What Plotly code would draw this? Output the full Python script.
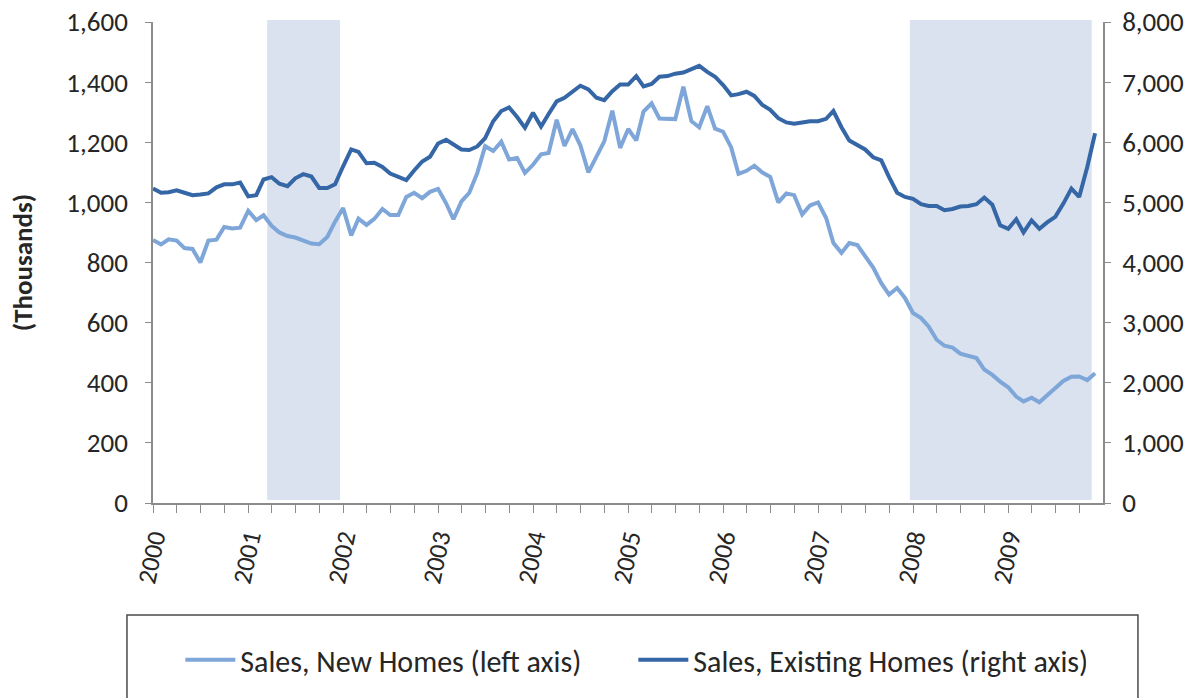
import pandas as pd
import plotly.graph_objects as go

# monthly series, Jan 2000 - Dec 2009 (thousands)
months = pd.date_range("2000-01-01", "2009-12-01", freq="MS")

new_homes = [
    875, 860, 877, 873, 848, 845, 800, 873, 876, 918, 913, 916,
    972, 941, 957, 922, 900, 888, 883, 874, 863, 861, 885, 936,
    981, 890, 946, 925, 945, 978, 958, 958, 1018, 1032, 1014, 1035,
    1045, 997, 944, 1003, 1032, 1098, 1187, 1171, 1202, 1143, 1148, 1098,
    1125, 1160, 1164, 1275, 1188, 1244, 1190, 1100, 1153, 1203, 1305, 1181,
    1244, 1206, 1302, 1329, 1279, 1279, 1277, 1385, 1270, 1250, 1320, 1245,
    1235, 1183, 1095, 1105, 1122, 1099, 1085, 1000, 1030, 1024, 960, 990,
    1000, 948, 865, 832, 865, 858, 822, 783, 731, 693, 715, 682,
    632, 615, 587, 543, 523, 517, 497, 491, 482, 444, 426, 404,
    385, 354, 338, 350, 335, 359, 382, 406, 420, 421, 409, 432,
]

existing_homes = [
    5230, 5160, 5170, 5200, 5160, 5120, 5130, 5150, 5250, 5300, 5300, 5330,
    5100, 5120, 5380, 5420, 5310, 5270, 5400, 5470, 5430, 5240, 5240, 5300,
    5600, 5880, 5840, 5650, 5660, 5590, 5480, 5420, 5370, 5530, 5680, 5760,
    5980, 6040, 5960, 5880, 5870, 5930, 6070, 6350, 6520, 6580, 6420, 6240,
    6490, 6260, 6470, 6680, 6740, 6840, 6940, 6880, 6740, 6700, 6850, 6960,
    6960, 7100, 6930, 6970, 7090, 7100, 7140, 7160, 7220, 7270, 7170, 7090,
    6950, 6780, 6800, 6840, 6770, 6620, 6540, 6400, 6330, 6310, 6330, 6350,
    6350, 6390, 6520, 6250, 6030, 5950, 5880, 5750, 5700, 5420, 5160, 5090,
    5060, 4970, 4940, 4940, 4870, 4890, 4930, 4940, 4970, 5080, 4960, 4620,
    4560, 4720, 4500, 4700, 4560, 4670, 4760, 4980, 5230, 5090, 5590, 6150,
]

# recession periods (shaded)
recessions = [("2001-03-15", "2001-12-20"), ("2007-12-20", "2009-11-18")]

FONT = "Calibri, Carlito, Liberation Sans, Arial, sans-serif"
TXT = "#262626"
AXIS = "#8c8c8c"

fig = go.Figure()

fig.add_trace(go.Scatter(
    x=months, y=new_homes, name="Sales, New Homes (left axis)",
    mode="lines", line=dict(color="#7ea6d8", width=4), yaxis="y",
))
fig.add_trace(go.Scatter(
    x=months, y=existing_homes, name="Sales, Existing Homes (right axis)",
    mode="lines", line=dict(color="#3566a6", width=4), yaxis="y2",
))

for start, end in recessions:
    fig.add_shape(type="rect", xref="x", yref="paper", x0=start, x1=end,
                  y0=0.006, y1=1.004, fillcolor="#dae2f0", line_width=0, layer="below")

# legend frame (runs off the bottom of the page like the original)
fig.add_shape(type="rect", xref="paper", yref="paper", x0=-0.0274, x1=1.0368,
              y0=-0.233, y1=-0.45, line=dict(color="#4a4a4a", width=1.5),
              fillcolor="rgba(0,0,0,0)")

fig.update_layout(
    width=1190, height=698,
    margin=dict(l=153, r=87, t=22, b=195, autoexpand=False),
    plot_bgcolor="white", paper_bgcolor="white",
    font=dict(family=FONT, size=27, color=TXT),
    showlegend=True,
    legend=dict(orientation="h", x=0.5056, xanchor="center", y=-0.326, yanchor="middle",
                font=dict(size=30, color=TXT), bgcolor="rgba(0,0,0,0)",
                itemwidth=50, entrywidth=388),
    xaxis=dict(
        type="date", range=["2000-01-01", "2009-12-31 12:00"],
        tick0="2000-01-01", dtick="M12", tickformat="%Y", tickangle=-78,
        ticks="outside", ticklen=8, tickcolor=AXIS,
        minor=dict(dtick="M3", ticks="outside", ticklen=8, tickcolor=AXIS),
        showline=True, linecolor=AXIS, linewidth=1.5, showgrid=False, zeroline=False,
        tickfont=dict(size=26, color=TXT), automargin=False,
    ),
    yaxis=dict(
        range=[0, 1600], dtick=200, tickformat=",", showgrid=False, zeroline=False,
        showline=True, linecolor=AXIS, linewidth=1.5,
        ticks="outside", ticklen=6, tickcolor=AXIS, ticklabelstandoff=12,
        tickfont=dict(size=27, color=TXT), automargin=False,
        title=dict(text="<b>(Thousands)</b>", font=dict(size=27, color=TXT), standoff=26),
    ),
    yaxis2=dict(
        range=[0, 8000], dtick=1000, tickformat=",", overlaying="y", side="right",
        showgrid=False, zeroline=False, showline=True, linecolor=AXIS, linewidth=1.5,
        ticks="outside", ticklen=6, tickcolor=AXIS, ticklabelstandoff=6,
        tickfont=dict(size=27, color=TXT), automargin=False,
    ),
)

# drop the page's default 8px body margin so the figure sits at the window corner
fig.write_html("out.html", config={"displayModeBar": False},
               post_script="document.body.style.margin='0';")
